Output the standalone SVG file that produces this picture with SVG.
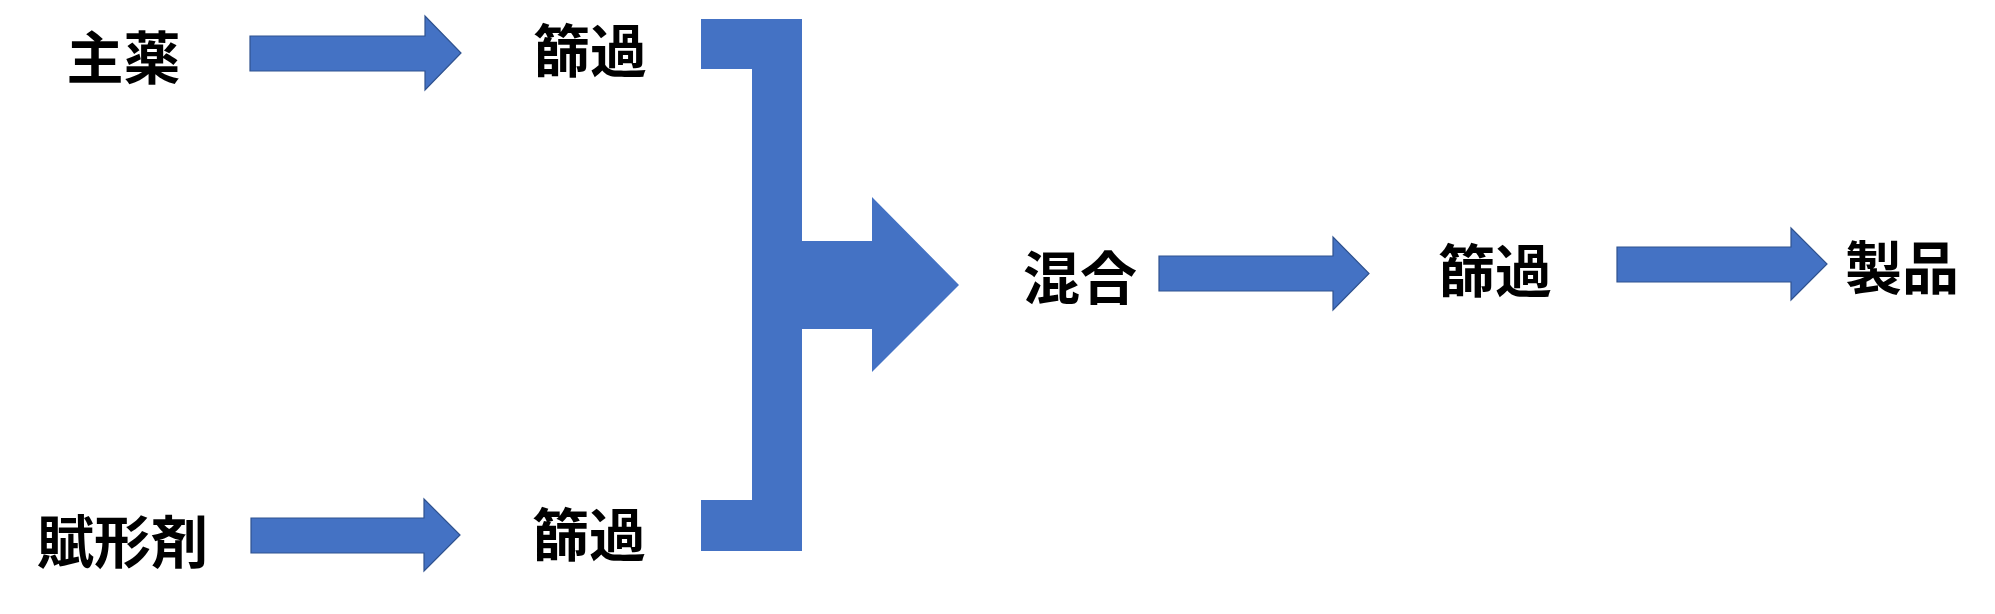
<svg xmlns="http://www.w3.org/2000/svg" width="1995" height="614" viewBox="0 0 1995 614">
<style>
.arrow{fill:#4472C4;stroke:#2F528F;stroke-width:1.2}
.big{fill:#4472C4}
.lbl{font-family:"Noto Sans CJK JP","Noto Sans CJK SC",sans-serif;font-weight:bold;font-size:57px;fill:#000;text-anchor:middle}
</style>
<rect width="1995" height="614" fill="#fff"/>
<g id="connectors">
<polygon class="arrow" points="250,36 425,36 425,16 461,53 425,90 425,71 250,71"/>
<polygon class="arrow" points="251,518 424,518 424,499 460,535 424,571 424,553 251,553"/>
<polygon class="big" points="701,19 802,19 802,241 872,241 872,197 959,285 872,372 872,329 802,329 802,551 701,551 701,500 752,500 752,69 701,69"/>
<polygon class="arrow" points="1159,256 1333,256 1333,237 1369,273.5 1333,310 1333,291 1159,291"/>
<polygon class="arrow" points="1617,247 1791,247 1791,228 1827,264 1791,300 1791,282 1617,282"/>
</g>
<g id="node-shuyaku"><text class="lbl" x="123.5" y="79">主薬</text></g>
<g id="node-fukeizai"><text class="lbl" x="122.5" y="563">賦形剤</text></g>
<g id="node-furui1"><text class="lbl" x="590" y="72">篩過</text></g>
<g id="node-furui2"><text class="lbl" x="589" y="556">篩過</text></g>
<g id="node-kongo"><text class="lbl" x="1080" y="299">混合</text></g>
<g id="node-furui3"><text class="lbl" x="1495" y="292">篩過</text></g>
<g id="node-seihin"><text class="lbl" x="1902" y="289">製品</text></g>
</svg>
